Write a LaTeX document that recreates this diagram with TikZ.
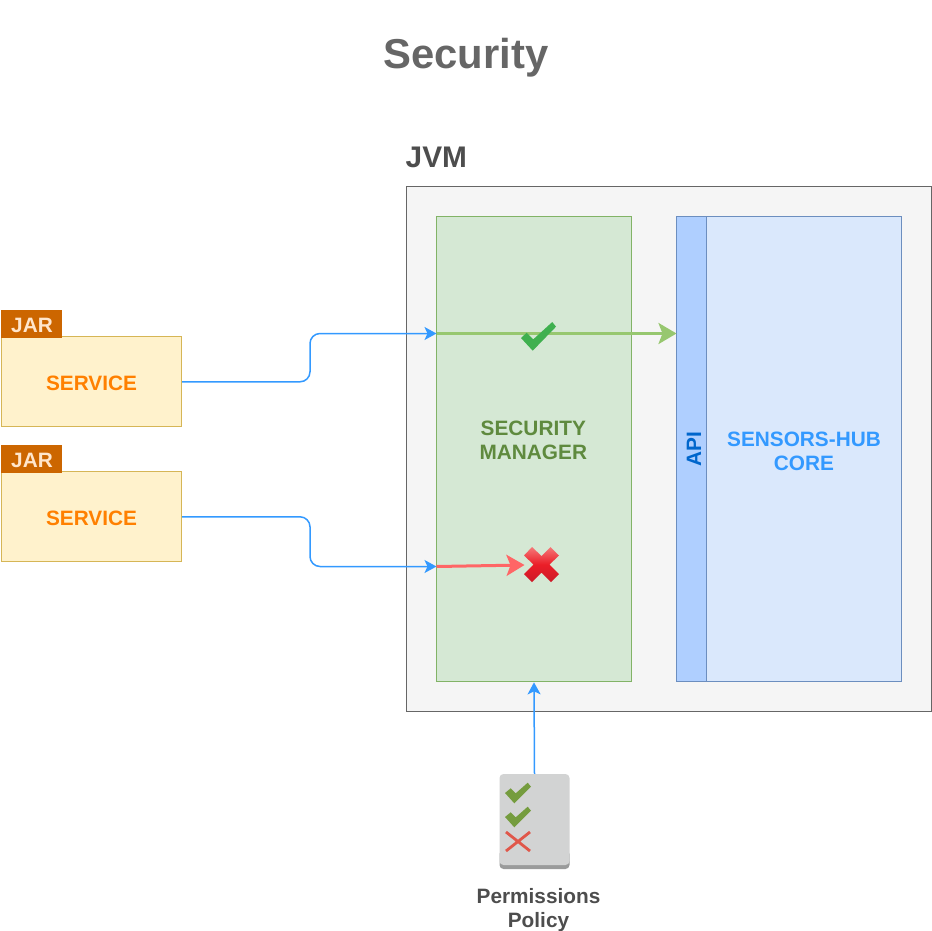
\documentclass[tikz,border=0pt]{standalone}
\usepackage{fontspec}
\setmainfont{Liberation Sans}
\usetikzlibrary{arrows.meta,shadings}
\definecolor{blueline}{HTML}{3399FF}
\definecolor{greenline}{HTML}{97C76F}
\definecolor{redline}{HTML}{FF6666}
\definecolor{darktext}{HTML}{4D4D4D}
\tikzset{
 x=1pt,y=-1pt,
 box/.style={draw,line width=1.3pt,inner sep=0pt,align=center,font=\fontsize{20.8}{24}\selectfont\bfseries},
 svc/.style={box,draw=svcedge,fill=svcfill,text=svctext,minimum width=180pt,minimum height=90pt},
 jartab/.style={box,line width=0pt,draw=jarfill,fill=jarfill,text=jartext,minimum width=60pt,minimum height=27pt},
 wire/.style={blueline,line width=1.5pt,rounded corners=10pt},
 wiretip/.style={-{Stealth[length=12pt,width=13pt,inset=3pt]}},
 thick green/.style={greenline,line width=3pt,-{Stealth[length=18pt,width=21pt,inset=4pt]}},
 thick red/.style={redline,line width=3pt,-{Stealth[length=18pt,width=21pt,inset=4pt]}},
 label/.style={inner sep=0pt,font=\bfseries}
}
\definecolor{svcedge}{HTML}{D6B656}
\definecolor{svcfill}{HTML}{FFF2CC}
\definecolor{svctext}{HTML}{FF8000}
\definecolor{jarfill}{HTML}{CC6600}
\definecolor{jartext}{HTML}{FFE6CC}
\begin{document}
\begin{tikzpicture}
\useasboundingbox (0,0) rectangle (932,930);
% title and frames
\node[label,text=black!60,font=\fontsize{41.8}{48}\selectfont\bfseries] (title) at (465.8,58) {Security};
\node[label,text=darktext,font=\fontsize{29.8}{34}\selectfont\bfseries,anchor=west] (jvmlabel) at (405.5,157.5) {JVM};
\node[box,draw=black!60,fill=black!4,minimum width=525pt,minimum height=525pt] (jvm) at (669,449.2) {};
\definecolor{smedge}{HTML}{82B366}\definecolor{smfill}{HTML}{D5E8D4}\definecolor{smtext}{HTML}{5F8A3E}
\node[box,draw=smedge,fill=smfill,minimum width=195pt,minimum height=465pt] (sm) at (534,449.2) {};
\node[label,text=smtext,align=center,font=\fontsize{20.8}{24}\selectfont\bfseries] (smlabel) at (533.3,440) {SECURITY\\MANAGER};
\definecolor{coreedge}{HTML}{6C8EBF}\definecolor{corefill}{HTML}{DAE8FC}\definecolor{apifill}{HTML}{AFCFFF}
\node[box,draw=coreedge,fill=corefill,text=blueline,minimum width=195pt,minimum height=465pt] (core) at (804,449.2) {};
\node[label,text=blueline,align=center,font=\fontsize{20.8}{24}\selectfont\bfseries] (corelabel) at (804,451.5) {SENSORS-HUB\\CORE};
\node[box,draw=coreedge,fill=apifill,minimum width=30pt,minimum height=465pt] (api) at (691.5,449.2) {};
\node[label,rotate=90,font=\fontsize{20.8}{24}\selectfont\bfseries] (apilabel) at (694,449) {\textcolor[HTML]{0066CC}{API}};
% services
\node[svc] (s1) at (91.5,381.8) {};
\node[label,text=svctext,font=\fontsize{20.8}{24}\selectfont\bfseries] (s1label) at (91.5,383.5) {SERVICE};
\node[svc] (s2) at (91.5,516.8) {};
\node[label,text=svctext,font=\fontsize{20.8}{24}\selectfont\bfseries] (s2label) at (91.5,518.5) {SERVICE};
\node[jartab] (j1) at (31.3,323.5) {};
\node[label,text=jartext,font=\fontsize{20.8}{24}\selectfont\bfseries] (j1label) at (32,325) {JAR};
\node[jartab] (j2) at (31.3,458.5) {};
\node[label,text=jartext,font=\fontsize{20.8}{24}\selectfont\bfseries] (j2label) at (32,460) {JAR};
% connectors
\coordinate (in1) at (436.5,333.5);
\coordinate (in2) at (436.5,566.5);
\coordinate (redend) at (524.5,565);
\coordinate (apiin) at (676.5,333.5);
\draw[wire,wiretip] (s1.east) -- (310,381.8) -- (310,333.5) -- (in1);
\draw[wire,wiretip] (s2.east) -- (310,516.8) -- (310,566.5) -- (in2);
\draw[thick green] (in1) -- (apiin);
\draw[thick red] (in2) -- (redend);
% check mark
\fill[fill={rgb,255:red,63;green,176;blue,79}] (521,338) -- (526.7,332.7) -- (533.3,339.3) -- (552.3,322) -- (556,326.7) -- (532.7,350.7) -- cycle;
% red cross
\shade[top color={rgb,255:red,245;green,120;blue,120},bottom color={rgb,255:red,205;green,25;blue,40},middle color={rgb,255:red,235;green,30;blue,40}]
 (524,555.5) -- (532,547) -- (541.5,556) -- (550.5,547) -- (559,555.5) -- (549.5,564.5) -- (559,574) -- (551,582) -- (541.5,572.5) -- (532,582) -- (524,574) -- (533.5,564.5) -- cycle;
% policy icon
\definecolor{docgray}{HTML}{D2D3D3}\definecolor{docedge}{HTML}{9A9B9B}\definecolor{checkolive}{HTML}{759C3E}\definecolor{crossred}{HTML}{E0574A}
\fill[docedge,rounded corners=4pt] (499.5,850) rectangle (569.5,869);
\node[draw=none,fill=docgray,rounded corners=4pt,minimum width=70pt,minimum height=91pt,inner sep=0pt] (policy) at (534.5,819.5) {};
\foreach \dy in {0,24}{
 \fill[checkolive,yshift=-\dy pt] (505,793) -- (510.7,788.3) -- (515.7,793.3) -- (527.7,782.7) -- (531,786.7) -- (514.3,803.3) -- cycle;
}
\draw[crossred,line width=2.8pt] (506,832) -- (530,851) (530,832) -- (506,851);
\draw[wire,wiretip] (policy.north) -- (sm.south);
\node[label,text=darktext,align=center,font=\fontsize{20.8}{24}\selectfont\bfseries] (perm) at (538.5,910) {Permissions\\Policy};
\end{tikzpicture}
\end{document}
